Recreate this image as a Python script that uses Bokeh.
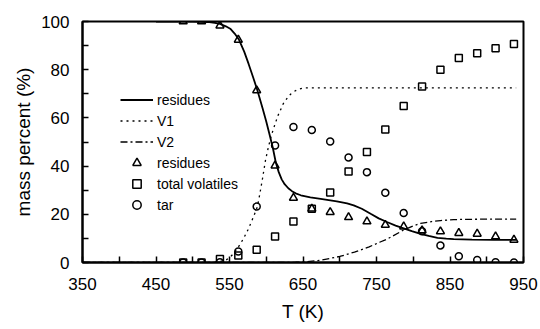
from bokeh.plotting import figure
from bokeh.models import FixedTicker, Legend, LegendItem
from bokeh.embed import file_html
from bokeh.resources import INLINE

# measured temperatures (K)
t_exp = [487, 512, 537, 562, 587, 612, 637, 662, 687, 712, 737, 762, 787, 812, 837, 862, 887, 912, 937]
residues_exp = [100, 100, 98.3, 92.4, 71.4, 40.2, 26.8, 22.3, 20.9, 18.8, 17.0, 15.6, 14.9, 13.3, 12.9, 12.2, 11.9, 10.8, 9.4]
volatiles_exp = [0, 0, 1.5, 2.9, 5.3, 10.8, 17.0, 22.3, 29.0, 37.8, 45.8, 55.2, 64.9, 73.0, 80.0, 84.9, 86.8, 88.9, 90.7]
tar_exp = [0, 0, 0.1, 4.6, 23.2, 48.5, 56.2, 55.0, 50.2, 43.6, 37.5, 28.9, 20.5, 13.0, 7.1, 2.6, 1.0, 0.1, 0.0]

# model curves
t_res = [450, 500, 520, 530, 537, 545, 551, 557, 563, 570, 576, 582, 588, 595, 600, 605, 609, 613, 617, 621,
         625, 630, 635, 640, 647, 660, 674, 696, 710, 719, 730, 742, 753, 765, 776, 787, 798, 810, 821, 833,
         845, 855, 880, 910, 940]
res_model = [100, 100, 99.8, 99.4, 99, 98, 97, 95, 92.4, 87.5, 82.4, 77, 71.4, 64, 58.5, 52.5, 47.5, 41.5, 37.5, 34.5,
             32.5, 30.8, 29.6, 28.7, 27.9, 27.0, 26.4, 25.4, 24.5, 23.7, 22.3, 20.2, 18.3, 16.7, 15.3, 14.2, 13.0, 11.9, 11.0, 10.2,
             9.9, 9.7, 9.5, 9.4, 9.4]

t_v1 = [350, 520, 535, 545, 550, 555, 560, 565, 570, 575, 580, 585, 588, 591, 595, 599, 603, 607, 612, 616,
        619, 623, 628, 633, 637, 643, 651, 665, 940]
v1_model = [0, 0, 0.3, 1, 2, 3.5, 5.5, 7.8, 10.5, 13.5, 17, 20.8, 23.2, 28, 35, 42.5, 48, 52.8, 57.5, 61,
            63, 65.8, 68, 69.8, 70.8, 71.8, 72.4, 72.5, 72.5]

t_v2 = [350, 600, 640, 655, 675, 700, 720, 740, 755, 765, 787, 800, 810, 825, 837, 855, 870, 900, 940]
v2_model = [0, 0, 0.1, 0.3, 1.0, 2.5, 4.3, 6.5, 8.5, 9.8, 13.5, 15.2, 16.2, 17.0, 17.4, 17.8, 17.9, 18.0, 18.0]

x_major = [350, 450, 550, 650, 750, 850, 950]
x_minor = [400, 500, 600, 700, 800, 900]
y_major = [0, 20, 40, 60, 80, 100]
y_minor = [10, 30, 50, 70, 90]

FONT = "Liberation Sans"

p = figure(width=540, height=329, x_range=(350, 950), y_range=(0, 100),
           output_backend="svg", toolbar_location=None,
           min_border_left=82, min_border_right=17, min_border_top=21, min_border_bottom=67)
p.background_fill_color = "white"
p.border_fill_color = "white"
p.outline_line_color = "black"
p.outline_line_width = 2
p.xgrid.visible = False
p.ygrid.visible = False

p.xaxis.ticker = FixedTicker(ticks=x_major, minor_ticks=x_minor)
p.yaxis.ticker = FixedTicker(ticks=y_major, minor_ticks=y_minor)
for ax in (p.xaxis, p.yaxis):
    ax.axis_line_width = 2
    ax.axis_line_color = "black"
    ax.major_tick_in = 6
    ax.major_tick_out = 0
    ax.minor_tick_in = 6
    ax.minor_tick_out = 0
    ax.major_tick_line_width = 1.5
    ax.minor_tick_line_width = 1.5
    ax.major_label_text_font = FONT
    ax.major_label_text_font_size = "17px"
    ax.major_label_text_color = "black"
    ax.axis_label_text_font = FONT
    ax.axis_label_text_font_size = "19px"
    ax.axis_label_text_font_style = "normal"
    ax.axis_label_text_color = "black"
p.xaxis.axis_label = "T (K)"
p.yaxis.axis_label = "mass percent (%)"
p.xaxis.major_label_standoff = 15
p.yaxis.major_label_standoff = 13
p.xaxis.axis_label_standoff = 8
p.yaxis.axis_label_standoff = 4

r_res = p.line(t_res, res_model, line_color="black", line_width=1.8)
r_v1 = p.line(t_v1, v1_model, line_color="black", line_width=1.3, line_dash="2 4")
r_v2 = p.line(t_v2, v2_model, line_color="black", line_width=1.3, line_dash="7 3 2 3")

r_tri = p.scatter(t_exp, residues_exp, marker="triangle", size=8, line_color="black",
                  line_width=1.5, fill_color=None)
r_sq = p.scatter(t_exp, volatiles_exp, marker="square", size=7, line_color="black",
                 line_width=1.5, fill_color=None)
r_cir = p.scatter(t_exp, tar_exp, marker="circle", size=7, line_color="black",
                  line_width=1.5, fill_color=None)

legend = Legend(items=[
    LegendItem(label="residues", renderers=[r_res]),
    LegendItem(label="V1", renderers=[r_v1]),
    LegendItem(label="V2", renderers=[r_v2]),
    LegendItem(label="residues", renderers=[r_tri]),
    LegendItem(label="total volatiles", renderers=[r_sq]),
    LegendItem(label="tar", renderers=[r_cir]),
], location=(38, 47))
legend.glyph_width = 33
legend.glyph_height = 21
legend.label_height = 21
legend.label_standoff = 4
legend.spacing = 0
legend.padding = 0
legend.margin = 0
legend.border_line_color = None
legend.background_fill_alpha = 0
legend.label_text_font = FONT
legend.label_text_font_size = "14px"
legend.label_text_color = "black"
p.add_layout(legend, "center")

open("out.html", "w").write(file_html(p, INLINE))
